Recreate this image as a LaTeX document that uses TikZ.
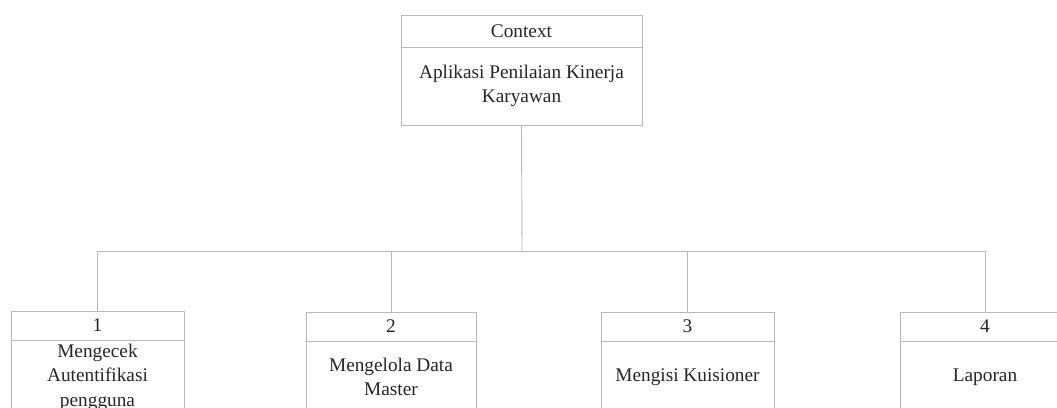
\documentclass[tikz,border=0pt]{standalone}
\usepackage{fontspec}
\setmainfont{Liberation Serif}
\begin{document}
\begin{tikzpicture}[x=1pt,y=-1pt,
  box/.style={draw=boxline, line width=0.9pt, inner sep=0pt, outer sep=0pt,
    anchor=north west, text=black!85, align=center,
    font=\fontsize{19.3}{24.5}\selectfont},
  link/.style={draw=boxline, line width=0.9pt}]
\definecolor{boxline}{RGB}{185,185,185}
\useasboundingbox (0,0) rectangle (1057,407);

% context process
\node[box, minimum width=241pt, minimum height=32pt] (ctxhead) at (401,15) {Context};
\node[box, minimum width=241pt, minimum height=78pt] (ctxbody) at (401,47)
  {Aplikasi Penilaian Kinerja\\Karyawan};

% level-one processes
\node[box, minimum width=173pt, minimum height=29pt] (h1) at (11,311) {1};
\node[box, minimum width=173pt, minimum height=74pt] (b1) at (11,340)
  {Mengecek\\Autentifikasi\\pengguna};
\node[box, minimum width=170pt, minimum height=29pt] (h2) at (306,312) {2};
\node[box, minimum width=170pt, minimum height=72pt] (b2) at (306,341)
  {Mengelola Data\\Master};
\node[box, minimum width=173pt, minimum height=29pt] (h3) at (601,312) {3};
\node[box, minimum width=173pt, minimum height=72pt] (b3) at (601,341)
  {Mengisi Kuisioner};
\node[box, minimum width=170pt, minimum height=29pt] (h4) at (900,312) {4};
\node[box, minimum width=170pt, minimum height=72pt] (b4) at (900,341)
  {Laporan};

% decomposition tree
\coordinate (bus) at (522,251);
\draw[link] (ctxbody.south) -- (bus);
\draw[link] (bus) -| (h1.north);
\draw[link] (bus) -| (h2.north);
\draw[link] (bus) -| (h3.north);
\draw[link] (bus) -| (h4.north);
\end{tikzpicture}
\end{document}
